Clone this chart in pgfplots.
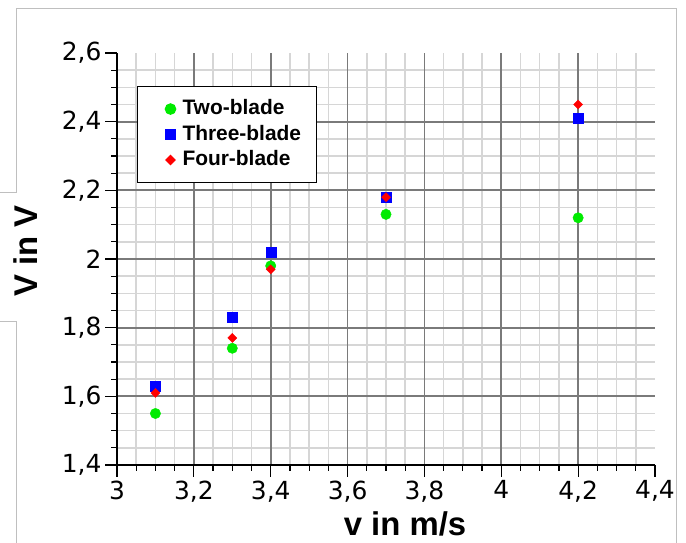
\documentclass[border=0pt]{standalone}
\usepackage{pgfplots}
\pgfplotsset{compat=1.18}
\usepackage{fontspec}
\setmainfont{Liberation Sans}
\newfontfamily\tickfont{DejaVu Sans}
\definecolor{cgreen}{RGB}{0,235,0}
\definecolor{cblue}{RGB}{0,0,255}
\definecolor{cred}{RGB}{255,0,0}
\tikzset{mingrid/.style={draw=black!16, line width=1.5bp},
         majgrid/.style={draw=black!52, line width=1.8bp}}
\begin{document}
\begin{tikzpicture}[x=1bp,y=1bp]
\useasboundingbox (0,0) rectangle (686,543);
\draw[black!25, line width=1bp] (0,350) -- (16,350) -- (16,534) -- (676,534) -- (676,0);
\draw[black!25, line width=1bp] (0,221) -- (16,221) -- (16,0);
\begin{axis}[
  at={(117bp,78bp)}, anchor=south west,
  width=538bp, height=412bp, scale only axis,
  xmin=3, xmax=4.4, ymin=1.4, ymax=2.6,
  xtick={3,3.2,3.4,3.6,3.8,4,4.2,4.4},
  ytick={1.4,1.6,1.8,2,2.2,2.4,2.6},
  minor xtick={3.05,3.1,3.15,3.25,3.3,3.35,3.45,3.5,3.55,3.65,3.7,3.75,3.85,3.9,3.95,4.05,4.1,4.15,4.25,4.3,4.35},
  minor ytick={1.45,1.5,1.55,1.65,1.7,1.75,1.85,1.9,1.95,2.05,2.1,2.15,2.25,2.3,2.35,2.45,2.5,2.55},
  grid=none, axis on top,
  axis x line*=bottom, axis y line*=left,
  axis line style={-, line width=1.3bp, black},
  tick align=outside, major tick length=12bp, minor tick length=6bp,
  tick style={black, line width=1.2bp},
  /pgf/number format/.cd, use comma, 1000 sep={}, assume math mode=true,
  /pgfplots/.cd,
  tick label style={font=\tickfont\fontsize{25}{30}\selectfont},
  xlabel={v in m/s}, ylabel={V in V},
  label style={font=\bfseries\fontsize{33}{38}\selectfont},
  xlabel style={at={(axis description cs:0.5353,-0.1723)}, anchor=base},
  ylabel style={at={(axis description cs:-0.1487,0.519)}, anchor=base},
  legend style={at={(axis description cs:0.037,0.920)}, anchor=north west,
    draw=black, line width=1.2bp, fill=white,
    inner xsep=0bp, inner ysep=13bp, row sep=6.5bp,
    font=\bfseries\fontsize{21}{25}\selectfont,
    nodes={inner sep=0bp, text width=134bp, text height=15bp, text depth=4bp},
    /tikz/every even column/.append style={column sep=10bp}},
  legend cell align=left,
  legend image code/.code={\path (-33bp,0) (12bp,0); \draw[#1] plot coordinates {(0bp,0bp)};},
]
% light grid (every 0.05)
\pgfplotsinvokeforeach{3.05,3.1,3.15,3.25,3.3,3.35,3.45,3.5,3.55,3.65,3.7,3.75,3.85,3.9,3.95,4.05,4.1,4.15,4.25,4.3,4.35}{
  \draw[mingrid] (axis cs:#1,1.4) -- (axis cs:#1,2.6);}
\pgfplotsinvokeforeach{1.45,1.5,1.55,1.65,1.7,1.75,1.85,1.9,1.95,2.05,2.1,2.15,2.25,2.3,2.35,2.45,2.5,2.55}{
  \draw[mingrid] (axis cs:3,#1) -- (axis cs:4.4,#1);}
% dark grid (every 0.2)
\pgfplotsinvokeforeach{3.2,3.4,3.6,3.8,4,4.2}{
  \draw[majgrid] (axis cs:#1,1.4) -- (axis cs:#1,2.6);}
\pgfplotsinvokeforeach{1.6,1.8,2,2.2,2.4}{
  \draw[majgrid] (axis cs:3,#1) -- (axis cs:4.4,#1);}
\addplot[draw=none, mark=*, mark size=5.2bp, color=cgreen] coordinates {
 (3.1,1.55) (3.3,1.74) (3.4,1.98) (3.7,2.13) (4.2,2.12)};
\addlegendentry{Two-blade}
\addplot[draw=none, mark=square*, mark size=5bp, color=cblue] coordinates {
 (3.1,1.63) (3.3,1.83) (3.4,2.02) (3.7,2.18) (4.2,2.41)};
\addlegendentry{Three-blade}
\addplot[draw=none, mark=square*, mark size=3.2bp, mark options={rotate=45}, color=cred] coordinates {
 (3.1,1.61) (3.3,1.77) (3.4,1.97) (3.7,2.18) (4.2,2.45)};
\addlegendentry{Four-blade}
\end{axis}
\end{tikzpicture}
\end{document}
